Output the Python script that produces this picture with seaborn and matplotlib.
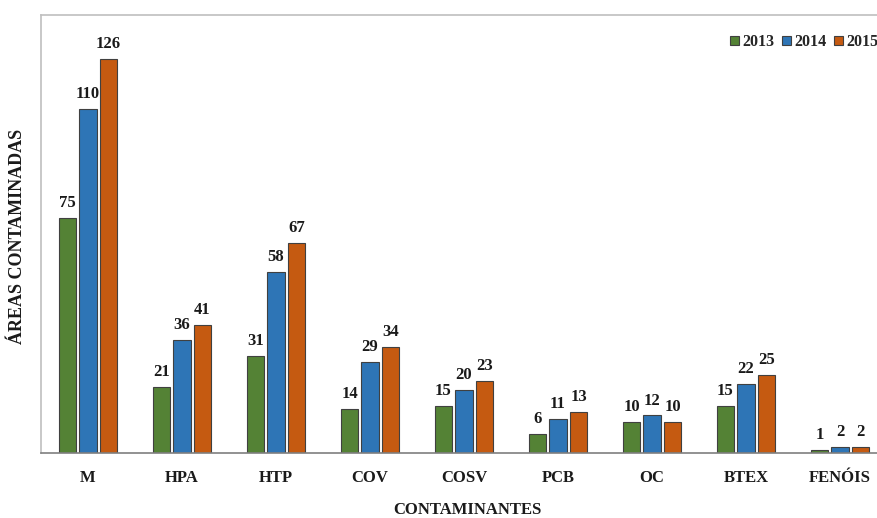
import matplotlib
matplotlib.use("Agg")
import matplotlib.pyplot as plt
from matplotlib.patches import Patch
import seaborn as sns
import pandas as pd

categories = ["M", "HPA", "HTP", "COV", "COSV", "PCB", "OC", "BTEX", "FENÓIS"]
years = ["2013", "2014", "2015"]
v2013 = [75, 21, 31, 14, 15, 6, 10, 15, 1]
v2014 = [110, 36, 58, 29, 20, 11, 12, 22, 2]
v2015 = [126, 41, 67, 34, 23, 13, 10, 25, 2]
colors = ["#548235", "#2E75B6", "#C55A11"]

df = pd.DataFrame({
    "cat": categories * 3,
    "ano": [y for y in years for _ in categories],
    "val": v2013 + v2014 + v2015,
})

sns.set_theme(style="white")
plt.rcParams["font.family"] = ["Liberation Serif", "DejaVu Serif"]
plt.rcParams["font.weight"] = "bold"

W, H = 877, 518
fig = plt.figure(figsize=(W / 100, H / 100), dpi=100)
left, right, top, bottom = 41, 887, 15, 453
ax = fig.add_axes([left / W, (H - bottom) / H, (right - left) / W, (bottom - top) / H])

sns.barplot(data=df, x="cat", y="val", hue="ano", palette=colors, saturation=1,
            width=0.655, gap=0.15, linewidth=0.8, edgecolor="#404040",
            legend=False, ax=ax)

for cont in ax.containers:
    ax.bar_label(cont, padding=5, fontsize=12, fontweight="bold", color="#1a1a1a")

ax.set_ylim(0, 140)
ax.set_xlim(-0.5, len(categories) - 0.5)
ax.set_yticks([])
ax.tick_params(axis="x", length=0, pad=12, labelsize=12, labelcolor="#1a1a1a")
for lab in ax.get_xticklabels():
    lab.set_fontweight("bold")
ax.set_xlabel("")
ax.set_ylabel("")

ax.spines["right"].set_visible(False)
ax.spines["left"].set_color("#BFBFBF")
ax.spines["top"].set_color("#BFBFBF")
ax.spines["left"].set_linewidth(1.2)
ax.spines["top"].set_linewidth(1.2)
ax.spines["bottom"].set_color("#7f7f7f")
ax.spines["bottom"].set_linewidth(1.2)

fig.text(467 / W, 1 - 510 / H, "CONTAMINANTES", ha="center", va="center",
         fontsize=12, fontweight="bold", color="#1a1a1a")
fig.text(18 / W, 1 - 236 / H, "ÁREAS CONTAMINADAS", ha="center", va="center",
         rotation=90, fontsize=13, fontweight="bold", color="#1a1a1a")

handles = [Patch(facecolor=c, edgecolor="#404040", linewidth=0.8, label=y)
           for c, y in zip(colors, years)]
fig.legend(handles=handles, loc="center left", bbox_to_anchor=(730 / W, 1 - 42 / H),
           ncol=3, frameon=False, handlelength=0.55, handleheight=0.55,
           handletextpad=0.2, columnspacing=0.5, borderpad=0, borderaxespad=0,
           prop={"size": 11.5, "weight": "bold"})

fig.savefig("out.png", dpi=100)
